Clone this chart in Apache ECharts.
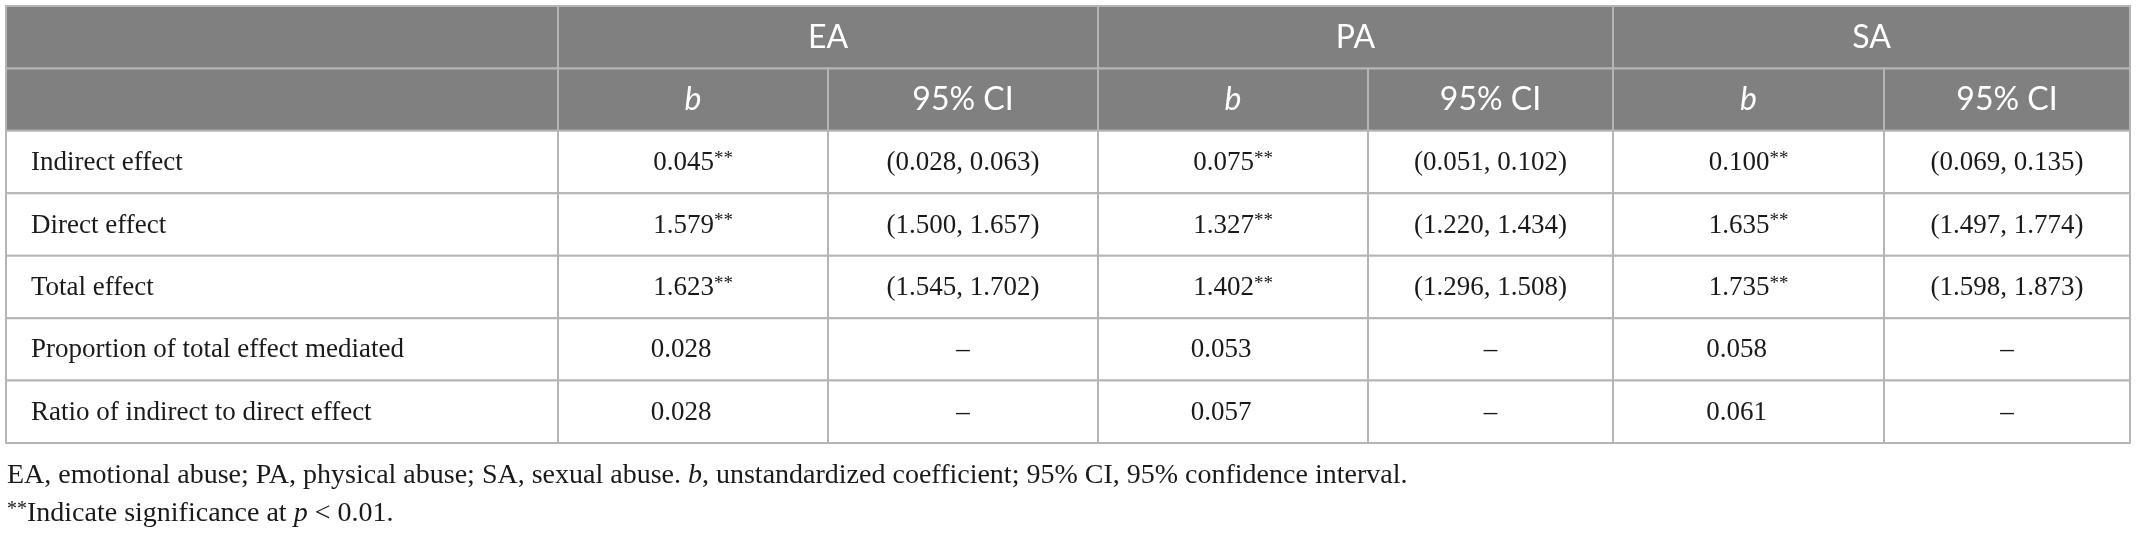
<!doctype html>
<html>
<head>
<meta charset="utf-8">
<title>Mediation effects</title>
<script src="https://cdn.jsdelivr.net/npm/echarts@6/dist/echarts.min.js"></script>
<style>
  html, body { margin: 0; padding: 0; background: #fff; }
  #main { width: 2136px; height: 534px; }
</style>
</head>
<body>
<div id="main"></div>
<script>
// table content
var groups = ['EA', 'PA', 'SA'];
var subHeads = ['b', '95% CI'];
var rowLabels = ['Indirect effect', 'Direct effect', 'Total effect',
  'Proportion of total effect mediated', 'Ratio of indirect to direct effect'];
var eaB = ['0.045**', '1.579**', '1.623**', '0.028', '0.028'];
var eaCI = ['(0.028, 0.063)', '(1.500, 1.657)', '(1.545, 1.702)', '–', '–'];
var paB = ['0.075**', '1.327**', '1.402**', '0.053', '0.057'];
var paCI = ['(0.051, 0.102)', '(1.220, 1.434)', '(1.296, 1.508)', '–', '–'];
var saB = ['0.100**', '1.635**', '1.735**', '0.058', '0.061'];
var saCI = ['(0.069, 0.135)', '(1.497, 1.774)', '(1.598, 1.873)', '–', '–'];
var footnote1 = 'EA, emotional abuse; PA, physical abuse; SA, sexual abuse. {i|b}, unstandardized coefficient; 95% CI, 95% confidence interval.';
var footnote2 = '{s|**}Indicate significance at {i|p} < 0.01.';

// layout (axis units = px inside the grid)
var COL_EDGES = [0, 552, 822, 1092, 1362, 1607, 1878, 2124];
var SERIF = '"Liberation Serif", "DejaVu Serif", serif';
var SANS = 'Lato, "Open Sans", sans-serif';
var HEAD_BG = '#808080';
var LINE = '#b5b5b5';

function richFor(size) {
  return {
    n: { font: size + 'px ' + SERIF, fill: '#1a1a1a' },
    i: { font: 'italic ' + size + 'px ' + SERIF, fill: '#1a1a1a' },
    s: { font: Math.round(size * 0.72) + 'px ' + SERIF, fill: '#1a1a1a', verticalAlign: 'top' }
  };
}
var serifRich = richFor(27);
var noteRich = richFor(28);
var sansRich = {
  n: { font: '32px ' + SANS, fill: '#fff' },
  i: { font: 'italic 32px ' + SANS, fill: '#fff' }
};

function stars(t) {
  var m = t.match(/^(.*?)(\*+)$/);
  return m ? '{n|' + m[1] + '}{s|' + m[2] + '}' : '{n|' + t + '}';
}

// build the cell list
var cells = [];
cells.push({ c0: 0, c1: 1, r: 0, head: true, text: '' });
cells.push({ c0: 0, c1: 1, r: 1, head: true, text: '' });
groups.forEach(function (g, gi) {
  cells.push({ c0: 1 + gi * 2, c1: 3 + gi * 2, r: 0, head: true, text: '{n|' + g + '}' });
  subHeads.forEach(function (s, si) {
    cells.push({ c0: 1 + gi * 2 + si, c1: 2 + gi * 2 + si, r: 1, head: true,
      text: s === 'b' ? '{i|b}' : '{n|' + s + '}' });
  });
});
var cols = [eaB, eaCI, paB, paCI, saB, saCI];
rowLabels.forEach(function (lab, ri) {
  cells.push({ c0: 0, c1: 1, r: ri + 2, text: '{n|' + lab + '}', left: true });
  cols.forEach(function (col, ci) {
    var v = col[ri];
    cells.push({ c0: ci + 1, c1: ci + 2, r: ri + 2, text: stars(v),
      shift: (ci % 2 === 0 && v.indexOf('*') < 0) ? -12 : 0 });
  });
});

function renderItem(params, api) {
  var cell = cells[params.dataIndex];
  var p0 = api.coord([COL_EDGES[api.value(0)], api.value(2)]);
  var p1 = api.coord([COL_EDGES[api.value(1)], api.value(2) + 1]);
  var midY = (p0[1] + p1[1]) / 2;
  var tx = cell.left ? p0[0] + 25 : (p0[0] + p1[0]) / 2 + (cell.shift || 0);
  return {
    type: 'group',
    children: [{
      type: 'rect',
      shape: { x: p0[0], y: p0[1], width: p1[0] - p0[0], height: p1[1] - p0[1] },
      style: { fill: cell.head ? HEAD_BG : '#fff', stroke: LINE, lineWidth: 2 }
    }, {
      type: 'text',
      style: {
        text: cell.text,
        x: tx,
        y: midY + (cell.head ? 0 : 1),
        align: cell.left ? 'left' : 'center',
        verticalAlign: 'middle',
        rich: cell.head ? sansRich : serifRich
      }
    }]
  };
}

var chart = echarts.init(document.getElementById('main'), null, { renderer: 'canvas' });
chart.setOption({
  animation: false,
  backgroundColor: '#fff',
  grid: { left: 6, right: 6, top: 6, height: 437 },
  xAxis: { type: 'value', min: 0, max: COL_EDGES[COL_EDGES.length - 1], show: false },
  yAxis: { type: 'value', min: 0, max: rowLabels.length + 2, inverse: true, show: false },
  series: [{
    type: 'custom',
    renderItem: renderItem,
    clip: false,
    data: cells.map(function (c) { return [c.c0, c.c1, c.r]; })
  }],
  graphic: [{
    type: 'text', x: 7, y: 476,
    style: { text: footnote1, verticalAlign: 'middle', rich: noteRich, font: '28px ' + SERIF, fill: '#1a1a1a' }
  }, {
    type: 'text', x: 7, y: 514,
    style: { text: footnote2, verticalAlign: 'middle', rich: noteRich, font: '28px ' + SERIF, fill: '#1a1a1a' }
  }]
});
</script>
</body>
</html>
